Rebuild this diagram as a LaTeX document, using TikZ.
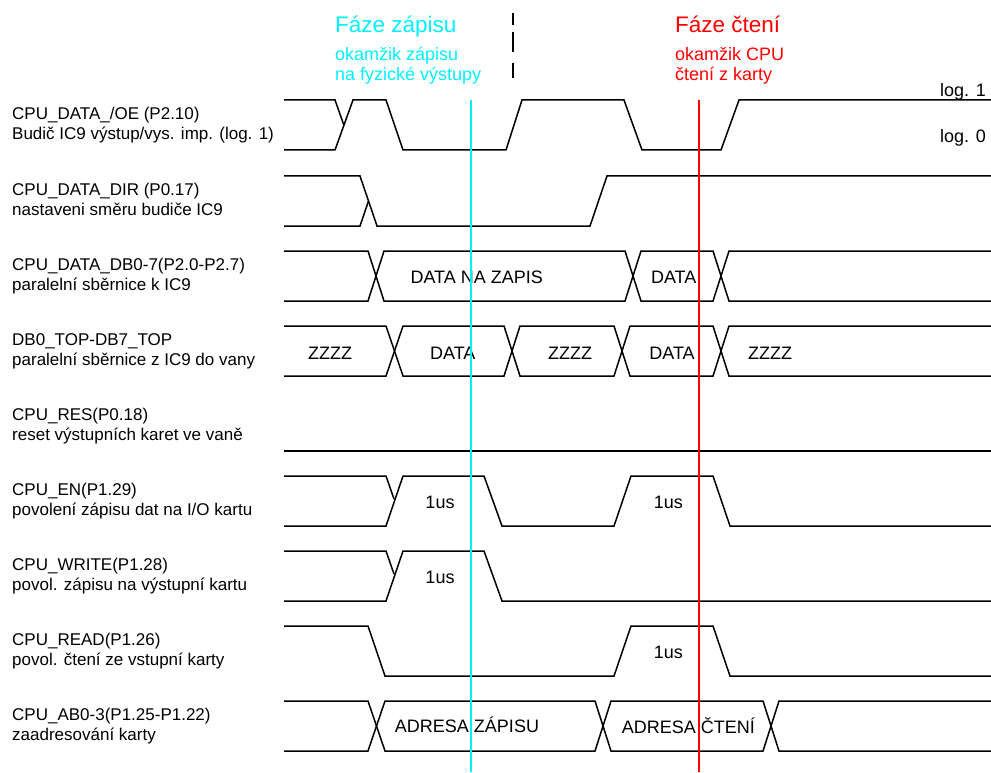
\documentclass[tikz,border=0pt]{standalone}
\usepackage{fontspec}
\setmainfont{Liberation Sans}
\usepackage{xcolor}
\usepackage{tikz}
\usetikzlibrary{positioning}
\definecolor{CInk}{HTML}{000000}
\definecolor{CWrite}{HTML}{00F0FF}
\definecolor{CRead}{HTML}{FF0000}

\begin{document}
\begin{tikzpicture}[x=1pt, y=-1pt, every node/.style={inner sep=0pt, text=CInk},
  sig/.style ={draw=CInk, line width=1.5pt},
  lbl/.style ={anchor=base west, align=left, font=\fontsize{17}{20}\selectfont},
  val/.style ={anchor=base, font=\fontsize{18}{20}\selectfont},
  ttl/.style ={anchor=base west, font=\fontsize{22.5}{26}\selectfont},
  note/.style={anchor=base west, align=left, font=\fontsize{18}{20}\selectfont},
  instant/.style={line width=2pt}]
\useasboundingbox (0,0) rectangle (991,773);
% signal names (base = last line)
\node[lbl] (oe)    at (12,139.5) {CPU\_DATA\_/OE (P2.10)\\Budič IC9 výstup/vys. imp. (log. 1)};
\node[lbl] (dir)   at (12,215.5) {CPU\_DATA\_DIR (P0.17)\\nastaveni směru budiče IC9};
\node[lbl] (db)    at (12,290.5) {CPU\_DATA\_DB0-7(P2.0-P2.7)\\paralelní sběrnice k IC9};
\node[lbl] (dbtop) at (12,365.5) {DB0\_TOP-DB7\_TOP\\paralelní sběrnice z IC9 do vany};
\node[lbl] (res)   at (12,440.5) {CPU\_RES(P0.18)\\reset výstupních karet ve vaně};
\node[lbl] (en)    at (12,515.5) {CPU\_EN(P1.29)\\povolení zápisu dat na I/O kartu};
\node[lbl] (wr)    at (12,590.5) {CPU\_WRITE(P1.28)\\povol. zápisu na výstupní kartu};
\node[lbl] (rd)    at (12,665.5) {CPU\_READ(P1.26)\\povol. čtení ze vstupní karty};
\node[lbl] (ab)    at (12,740.5) {CPU\_AB0-3(P1.25-P1.22)\\zaadresování karty};
% phases
\node[ttl,  text=CWrite] (wrttl)  at (335,33) {Fáze zápisu};
\node[note, text=CWrite] (wrnote) at (335,81) {okamžik zápisu\\na fyzické výstupy};
\node[ttl,  text=CRead]  (rdttl)  at (675,33) {Fáze čtení};
\node[note, text=CRead]  (rdnote) at (675,81) {okamžik CPU\\čtení z karty};
\node[note] (log1) at (940,97)  {log. 1};
\node[note] (log0) at (940,143) {log. 0};
\draw[line width=2pt, dash pattern=on 12pt off 7pt on 20pt off 11pt on 15pt off 5pt] (513.3,13) -- (513.3,78);
% CPU_DATA_/OE
\draw[sig] (284,100) -- (335,100) -- (344,125.5);
\draw[sig] (284,150) -- (335,150) -- (353,100) -- (386,100) -- (403,150) -- (506,150) -- (522,100)
  -- (624,100) -- (642,150) -- (721,150) -- (739,100) -- (991,100);
% CPU_DATA_DIR
\draw[sig] (284,226) -- (360,226) -- (368.5,201);
\draw[sig] (284,176) -- (360,176) -- (377,226) -- (590,226) -- (607,176) -- (991,176);
% CPU_DATA_DB0-7
\draw[sig] (284,251) -- (368,251) -- (384,301) -- (625,301) -- (641,251) -- (713,251) -- (729,301) -- (991,301);
\draw[sig] (284,301) -- (368,301) -- (384,251) -- (625,251) -- (641,301) -- (713,301) -- (729,251) -- (991,251);
\node[val] (dwr) at (476.7,283) {DATA NA ZAPIS};
\node[val] (drd) at (673.7,283) {DATA};
% DB0_TOP-DB7_TOP
\draw[sig] (284,326) -- (386,326) -- (403,376) -- (504,376) -- (520,326) -- (614,326) -- (630,376)
  -- (713,376) -- (729,326) -- (991,326);
\draw[sig] (284,376) -- (386,376) -- (403,326) -- (504,326) -- (520,376) -- (614,376) -- (630,326)
  -- (713,326) -- (729,376) -- (991,376);
\foreach \x [count=\i] in {330,570,770} \node[val] (z\i) at (\x,359) {ZZZZ};
\node[val] (twr) at (452.8,359) {DATA};
\node[val] (trd) at (672,359) {DATA};
% CPU_RES
\draw[sig] (284,451) -- (991,451);
% CPU_EN
\draw[sig] (284,476) -- (386,476) -- (394,499);
\draw[sig] (284,526) -- (386,526) -- (403,476) -- (484,476) -- (502,526) -- (614,526) -- (631,476)
  -- (713,476) -- (730,526) -- (991,526);
% CPU_WRITE
\draw[sig] (284,551) -- (386,551) -- (394,574);
\draw[sig] (284,601) -- (386,601) -- (403,551) -- (484,551) -- (502,601) -- (991,601);
% CPU_READ
\draw[sig] (284,626) -- (368,626) -- (385,676) -- (614,676) -- (631,626) -- (713,626) -- (730,676) -- (991,676);
\foreach \x/\y [count=\i] in {440/508, 668.3/508, 440/583, 668.3/658} \node[val] (us\i) at (\x,\y) {1us};
% CPU_AB0-3
\draw[sig] (284,701) -- (368,701) -- (385,751) -- (595,751) -- (611,701) -- (763,701) -- (779,751) -- (991,751);
\draw[sig] (284,751) -- (368,751) -- (385,701) -- (595,701) -- (611,751) -- (763,751) -- (779,701) -- (991,701);
\node[val] (awr) at (467,732) {ADRESA ZÁPISU};
\node[val] (ard) at (688.3,733) {ADRESA ČTENÍ};
% instants
\draw[instant, draw=CWrite] (470.7,100) -- (470.7,772);
\draw[instant, draw=CRead] (699,100) -- (699,772);
\end{tikzpicture}
\end{document}
